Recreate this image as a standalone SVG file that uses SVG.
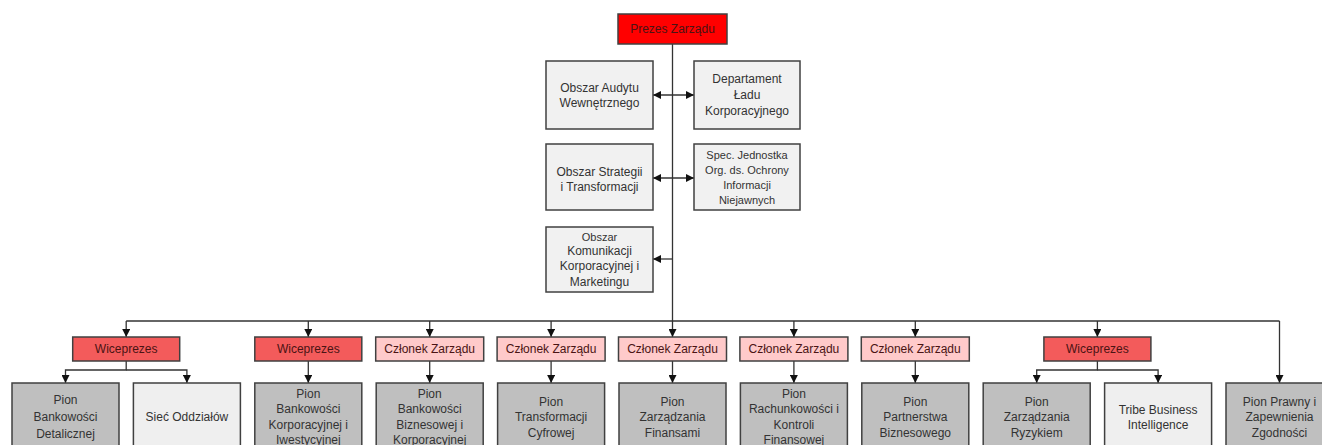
<svg xmlns="http://www.w3.org/2000/svg" width="1322" height="445" viewBox="0 0 1322 445">
  <defs>
    <marker id="ah" viewBox="0 0 10 10" refX="10" refY="5" markerWidth="8" markerHeight="8" markerUnits="userSpaceOnUse" orient="auto-start-reverse">
      <path d="M0,0 L10,5 L0,10 z" fill="#111"/>
    </marker>
    <style>
      rect { stroke: #404040; stroke-width: 1.5; }
      .prezes { fill: #ff0000; }
      .vp { fill: #f35b5b; }
      .czl { fill: #ffcaca; }
      .staff { fill: #f1f1f1; }
      .pion { fill: #bfbfbf; }
      .light { fill: #efefef; }
      text { font-family: "Liberation Sans", Arial, sans-serif; font-size: 12px; fill: #333; text-anchor: middle; dominant-baseline: central; }
      .dark { fill: #4a1414; }
      .sm { font-size: 11px; }
      .conn line, .conn path { stroke: #333; stroke-width: 1.3; fill: none; }
    </style>
  </defs>

  <!-- connectors -->
  <g class="conn">
    <!-- trunk from the president down to the bus -->
    <line x1="672.5" y1="44" x2="672.5" y2="337" marker-end="url(#ah)"/>
    <!-- staff units -->
    <line x1="653" y1="95" x2="694" y2="95" marker-start="url(#ah)" marker-end="url(#ah)"/>
    <line x1="653" y1="178" x2="694" y2="178" marker-start="url(#ah)" marker-end="url(#ah)"/>
    <line x1="672.5" y1="259" x2="653" y2="259" marker-end="url(#ah)"/>
    <!-- board bus -->
    <line x1="126.2" y1="321" x2="1279.5" y2="321"/>
    <line x1="126.2" y1="321" x2="126.2" y2="337" marker-end="url(#ah)"/>
    <line x1="308.3" y1="321" x2="308.3" y2="337" marker-end="url(#ah)"/>
    <line x1="429.7" y1="321" x2="429.7" y2="337" marker-end="url(#ah)"/>
    <line x1="551.1" y1="321" x2="551.1" y2="337" marker-end="url(#ah)"/>
    <line x1="793.9" y1="321" x2="793.9" y2="337" marker-end="url(#ah)"/>
    <line x1="915.3" y1="321" x2="915.3" y2="337" marker-end="url(#ah)"/>
    <line x1="1097.4" y1="321" x2="1097.4" y2="337" marker-end="url(#ah)"/>
    <line x1="1279.5" y1="321" x2="1279.5" y2="383" marker-end="url(#ah)"/>
    <!-- board members to divisions -->
    <path d="M126.2,361 V370 H65.5 V383" marker-end="url(#ah)"/>
    <path d="M126.2,370 H186.9 V383" marker-end="url(#ah)"/>
    <line x1="308.3" y1="361" x2="308.3" y2="383" marker-end="url(#ah)"/>
    <line x1="429.7" y1="361" x2="429.7" y2="383" marker-end="url(#ah)"/>
    <line x1="551.1" y1="361" x2="551.1" y2="383" marker-end="url(#ah)"/>
    <line x1="672.5" y1="361" x2="672.5" y2="383" marker-end="url(#ah)"/>
    <line x1="793.9" y1="361" x2="793.9" y2="383" marker-end="url(#ah)"/>
    <line x1="915.3" y1="361" x2="915.3" y2="383" marker-end="url(#ah)"/>
    <path d="M1097.4,361 V370 H1036.7 V383" marker-end="url(#ah)"/>
    <path d="M1097.4,370 H1158.1 V383" marker-end="url(#ah)"/>
  </g>

  <!-- president -->
  <g id="prezes">
    <rect class="prezes" x="618" y="14" width="109" height="30"/>
    <text class="dark" x="672.5" y="29">Prezes Zarządu</text>
  </g>

  <!-- staff units -->
  <g id="audyt">
    <rect class="staff" x="546" y="61" width="107" height="68"/>
    <text x="599.5" y="88">Obszar Audytu</text>
    <text x="599.5" y="103">Wewnętrznego</text>
  </g>
  <g id="lad">
    <rect class="staff" x="694" y="61" width="106" height="68"/>
    <text x="747" y="79">Departament</text>
    <text x="747" y="95">Ładu</text>
    <text x="747" y="111">Korporacyjnego</text>
  </g>
  <g id="strategia">
    <rect class="staff" x="546" y="144" width="107" height="66"/>
    <text x="599.5" y="172">Obszar Strategii</text>
    <text x="599.5" y="187">i Transformacji</text>
  </g>
  <g id="ochrona">
    <rect class="staff" x="694" y="144" width="106" height="66"/>
    <text class="sm" x="747" y="155">Spec. Jednostka</text>
    <text class="sm" x="747" y="170">Org. ds. Ochrony</text>
    <text class="sm" x="747" y="185">Informacji</text>
    <text class="sm" x="747" y="200">Niejawnych</text>
  </g>
  <g id="komunikacja">
    <rect class="staff" x="546" y="227" width="107" height="65"/>
    <text class="sm" x="599.5" y="237">Obszar</text>
    <text x="599.5" y="251">Komunikacji</text>
    <text x="599.5" y="266">Korporacyjnej i</text>
    <text x="599.5" y="282">Marketingu</text>
  </g>

  <!-- board members -->
  <g id="vp1">
    <rect class="vp" x="72.7" y="337" width="107" height="24"/>
    <text class="dark" x="126.2" y="349">Wiceprezes</text>
  </g>
  <g id="vp2">
    <rect class="vp" x="254.8" y="337" width="107" height="24"/>
    <text class="dark" x="308.3" y="349">Wiceprezes</text>
  </g>
  <g id="czl1">
    <rect class="czl" x="375.7" y="337" width="108" height="24"/>
    <text class="dark" x="429.7" y="349">Członek Zarządu</text>
  </g>
  <g id="czl2">
    <rect class="czl" x="497.1" y="337" width="108" height="24"/>
    <text class="dark" x="551.1" y="349">Członek Zarządu</text>
  </g>
  <g id="czl3">
    <rect class="czl" x="618.5" y="337" width="108" height="24"/>
    <text class="dark" x="672.5" y="349">Członek Zarządu</text>
  </g>
  <g id="czl4">
    <rect class="czl" x="739.9" y="337" width="108" height="24"/>
    <text class="dark" x="793.9" y="349">Członek Zarządu</text>
  </g>
  <g id="czl5">
    <rect class="czl" x="861.3" y="337" width="108" height="24"/>
    <text class="dark" x="915.3" y="349">Członek Zarządu</text>
  </g>
  <g id="vp3">
    <rect class="vp" x="1043.9" y="337" width="107" height="24"/>
    <text class="dark" x="1097.4" y="349">Wiceprezes</text>
  </g>

  <!-- divisions -->
  <g id="detal">
    <rect class="pion" x="12" y="383" width="107" height="70"/>
    <text x="65.5" y="400">Pion</text>
    <text x="65.5" y="417">Bankowości</text>
    <text x="65.5" y="434">Detalicznej</text>
  </g>
  <g id="siec">
    <rect class="light" x="133.4" y="383" width="107" height="70"/>
    <text x="186.9" y="417">Sieć Oddziałów</text>
  </g>
  <g id="korpo">
    <rect class="pion" x="254.8" y="383" width="107" height="70"/>
    <text x="308.3" y="394">Pion</text>
    <text x="308.3" y="409">Bankowości</text>
    <text x="308.3" y="425">Korporacyjnej i</text>
    <text x="308.3" y="440">Iwestycyjnej</text>
  </g>
  <g id="biznes">
    <rect class="pion" x="376.2" y="383" width="107" height="70"/>
    <text x="429.7" y="394">Pion</text>
    <text x="429.7" y="409">Bankowości</text>
    <text x="429.7" y="425">Biznesowej i</text>
    <text x="429.7" y="440">Korporacyjnej</text>
  </g>
  <g id="cyfrowa">
    <rect class="pion" x="497.6" y="383" width="107" height="70"/>
    <text x="551.1" y="402">Pion</text>
    <text x="551.1" y="417">Transformacji</text>
    <text x="551.1" y="433">Cyfrowej</text>
  </g>
  <g id="finanse">
    <rect class="pion" x="619" y="383" width="107" height="70"/>
    <text x="672.5" y="402">Pion</text>
    <text x="672.5" y="417">Zarządzania</text>
    <text x="672.5" y="433">Finansami</text>
  </g>
  <g id="rachunkowosc">
    <rect class="pion" x="740.4" y="383" width="107" height="70"/>
    <text x="793.9" y="394">Pion</text>
    <text x="793.9" y="409">Rachunkowości i</text>
    <text x="793.9" y="425">Kontroli</text>
    <text x="793.9" y="440">Finansowej</text>
  </g>
  <g id="partnerstwo">
    <rect class="pion" x="861.8" y="383" width="107" height="70"/>
    <text x="915.3" y="402">Pion</text>
    <text x="915.3" y="417">Partnerstwa</text>
    <text x="915.3" y="433">Biznesowego</text>
  </g>
  <g id="ryzyko">
    <rect class="pion" x="983.2" y="383" width="107" height="70"/>
    <text x="1036.7" y="402">Pion</text>
    <text x="1036.7" y="417">Zarządzania</text>
    <text x="1036.7" y="433">Ryzykiem</text>
  </g>
  <g id="tribe">
    <rect class="light" x="1104.6" y="383" width="107" height="70"/>
    <text x="1158.1" y="410">Tribe Business</text>
    <text x="1158.1" y="425">Intelligence</text>
  </g>
  <g id="prawny">
    <rect class="pion" x="1226" y="383" width="107" height="70"/>
    <text x="1279.5" y="402">Pion Prawny i</text>
    <text x="1279.5" y="417">Zapewnienia</text>
    <text x="1279.5" y="433">Zgodności</text>
  </g>
</svg>
